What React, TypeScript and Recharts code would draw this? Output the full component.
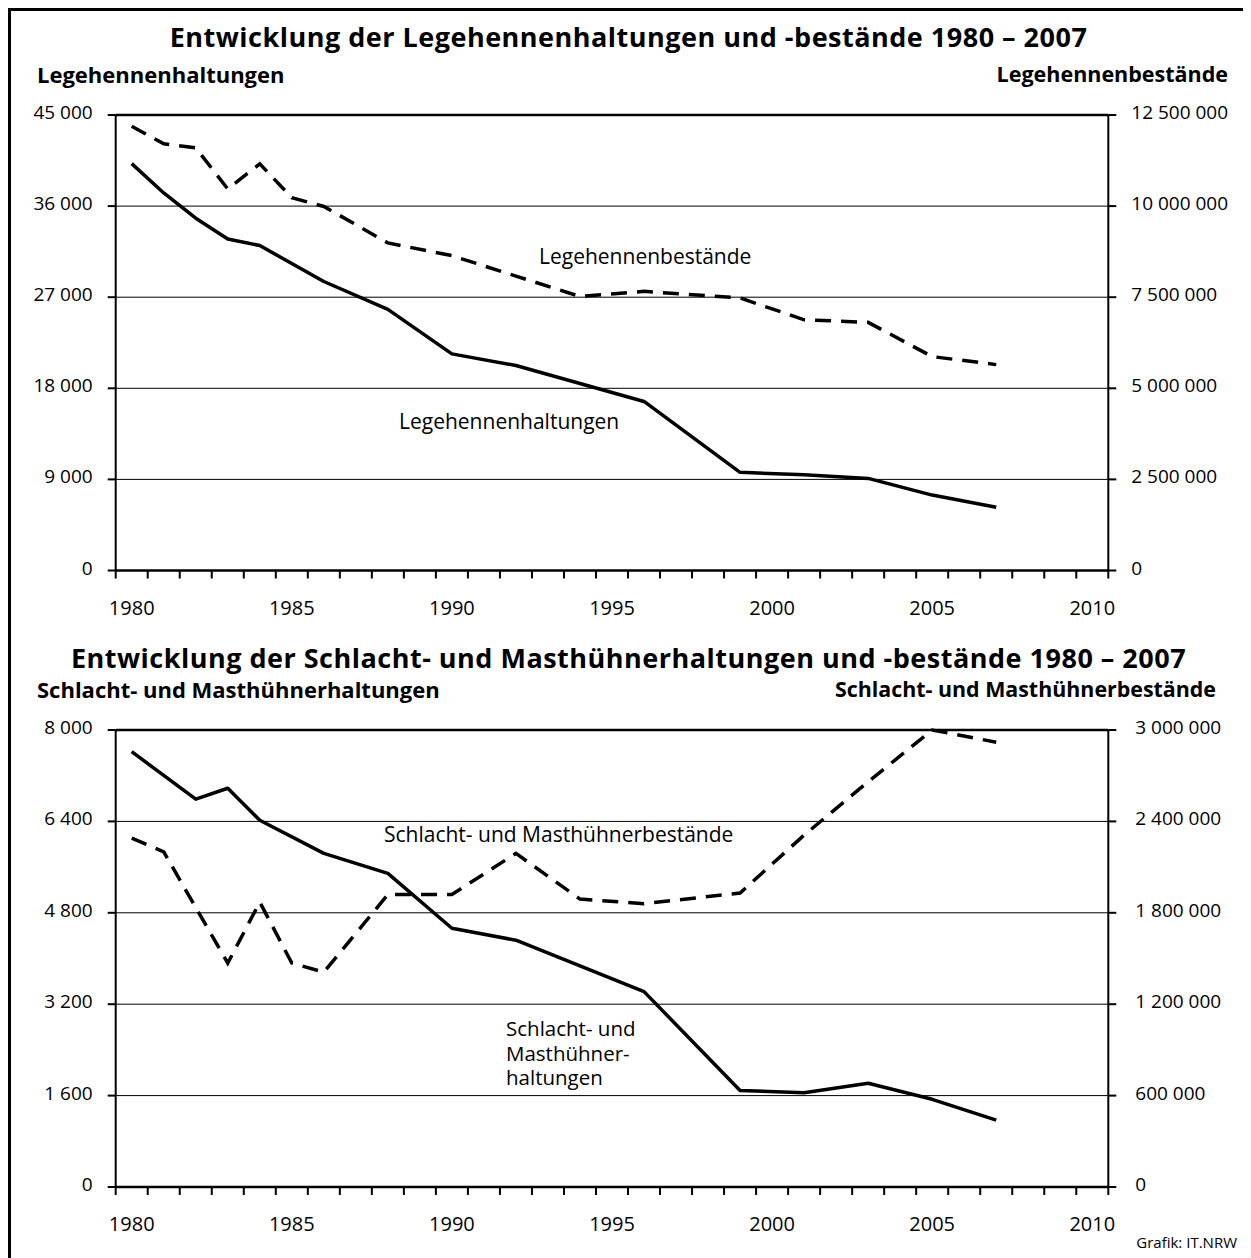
import { CartesianGrid, Line, LineChart, ReferenceLine, XAxis, YAxis } from 'recharts';

// years with observations (1980 - 2007)
const years = [1980, 1981, 1982, 1983, 1984, 1985, 1986, 1988, 1990, 1992, 1994, 1996, 1999, 2001, 2003, 2005, 2007];

// Legehennen
const legeHaltungen = [40200, 37300, 34800, 32750, 32100, null, 28550, 25800, 21400, 20250, null, 16700, 9700, 9450, 9100, 7450, 6250];
const legeBestaende = [12190000, 11710000, 11600000, 10470000, 11160000, 10230000, 9990000, 8990000, 8640000, 8080000, 7520000, 7660000, 7480000, 6880000, 6810000, 5870000, 5650000];

// Schlacht- und Masthühner
const mastHaltungen = [7620, null, 6790, 6980, 6420, null, 5840, 5490, 4530, 4320, null, 3420, 1690, 1650, 1815, 1535, 1170];
const mastBestaende = [2290000, 2200000, null, 1470000, 1870000, 1470000, 1410000, 1920000, 1920000, 2190000, 1890000, 1860000, 1930000, 2310000, 2660000, 3000000, 2920000];

const yearLabels = [1980, 1985, 1990, 1995, 2000, 2005, 2010];
const legeLeftTicks = [0, 9000, 18000, 27000, 36000, 45000];
const legeRightTicks = [0, 2500000, 5000000, 7500000, 10000000, 12500000];
const mastLeftTicks = [0, 1600, 3200, 4800, 6400, 8000];
const mastRightTicks = [0, 600000, 1200000, 1800000, 2400000, 3000000];

// category boundaries (one slot per year 1980..2010)
const yearBounds = Array.from({ length: 32 }, (_, i) => 1979.5 + i);

const fmt = (v: number) => String(v).replace(/\B(?=(\d{3})+(?!\d))/g, ' ');

const legeData = years.map((year, i) => ({ year, haltungen: legeHaltungen[i], bestaende: legeBestaende[i] }));
const mastData = years.map((year, i) => ({ year, haltungen: mastHaltungen[i], bestaende: mastBestaende[i] }));

const W = 1241;
const H = 620;
const FONT = "'Open Sans', sans-serif";

function YTick(props: any) {
  const { x, y, payload, textAnchor } = props;
  return (
    <text x={x} y={y} dy={4} textAnchor={textAnchor} fontSize={19} fill="#000" fontFamily={FONT}>
      {fmt(payload.value)}
    </text>
  );
}

const NoLabel = () => <g />;

type PanelProps = {
  data: { year: number; haltungen: number | null; bestaende: number | null }[];
  leftTicks: number[];
  rightTicks: number[];
  top: number;
  bottom: number;
  rightMargin: number;
};

function Panel({ data, leftTicks, rightTicks, top, bottom, rightMargin }: PanelProps) {
  const leftMax = leftTicks[leftTicks.length - 1];
  const rightMax = rightTicks[rightTicks.length - 1];
  return (
    <LineChart width={W} height={H} data={data} margin={{ top, right: 0, bottom, left: 0 }}>
      <CartesianGrid xAxisId="lbl" yAxisId="left" vertical={false} stroke="#000" strokeWidth={1} />
      <XAxis
        xAxisId="bnd"
        dataKey="year"
        type="number"
        domain={[1979.5, 2010.5]}
        ticks={yearBounds}
        interval={0}
        height={1}
        stroke="#000"
        axisLine={{ stroke: '#000', strokeWidth: 2.5 }}
        tickLine={{ stroke: '#000', strokeWidth: 2 }}
        tickSize={8}
        tick={NoLabel}
      />
      <XAxis
        xAxisId="lbl"
        dataKey="year"
        type="number"
        domain={[1979.5, 2010.5]}
        ticks={yearLabels}
        interval={0}
        height={1}
        axisLine={false}
        tickLine={false}
        tickSize={0}
        tickMargin={29}
        tick={{ fill: '#000', fontSize: 20, fontFamily: FONT }}
      />
      <YAxis
        yAxisId="left"
        orientation="left"
        width={107.7}
        domain={[0, leftMax]}
        ticks={leftTicks}
        interval={0}
        stroke="#000"
        axisLine={{ strokeWidth: 2 }}
        tickLine={{ strokeWidth: 2 }}
        tickSize={8}
        tickMargin={15}
        tick={<YTick />}
      />
      <YAxis
        yAxisId="right"
        orientation="right"
        width={140.7}
        domain={[0, rightMax]}
        ticks={rightTicks}
        interval={0}
        stroke="#000"
        axisLine={{ strokeWidth: 2 }}
        tickLine={{ strokeWidth: 2 }}
        tickSize={8}
        tickMargin={rightMargin}
        tick={<YTick />}
      />
      <ReferenceLine xAxisId="lbl" yAxisId="left" y={leftMax} stroke="#000" strokeWidth={2.5} />
      <Line
        xAxisId="lbl"
        yAxisId="right"
        dataKey="bestaende"
        type="linear"
        stroke="#000"
        strokeWidth={3.5}
        strokeDasharray="16 10"
        dot={false}
        activeDot={false}
        connectNulls
        isAnimationActive={false}
      />
      <Line
        xAxisId="lbl"
        yAxisId="left"
        dataKey="haltungen"
        type="linear"
        stroke="#000"
        strokeWidth={3.5}
        strokeLinejoin="round"
        dot={false}
        activeDot={false}
        connectNulls
        isAnimationActive={false}
      />
    </LineChart>
  );
}

const abs = (extra: React.CSSProperties): React.CSSProperties => ({ position: 'absolute', whiteSpace: 'nowrap', ...extra });

export default function App() {
  return (
    <div style={{ position: 'relative', width: W, height: 1250, fontFamily: FONT, color: '#000' }}>
      <div style={{ position: 'absolute', left: 0, top: 0, width: W - 6, height: 1250, borderTop: '3px solid #000', borderLeft: '3px solid #000', borderRight: '3px solid #000' }} />

      <div style={{ position: 'absolute', left: 0, top: 0 }}>
        <Panel data={legeData} leftTicks={legeLeftTicks} rightTicks={legeRightTicks} top={107} bottom={55.5} rightMargin={15} />
      </div>
      <div style={{ position: 'absolute', left: 0, top: 620 }}>
        <Panel data={mastData} leftTicks={mastLeftTicks} rightTicks={mastRightTicks} top={102} bottom={59} rightMargin={19} />
      </div>

      <div style={abs({ left: 0, width: W, top: 15, textAlign: 'center', fontSize: 27, fontWeight: 700, lineHeight: '27px', letterSpacing: 0.5 })}>
        Entwicklung der Legehennenhaltungen und -bestände 1980 – 2007
      </div>
      <div style={abs({ left: 29, top: 55, fontSize: 22, fontWeight: 700, lineHeight: '22px' })}>Legehennenhaltungen</div>
      <div style={abs({ right: 21, top: 55, fontSize: 21.5, fontWeight: 700, lineHeight: '22px' })}>Legehennenbestände</div>

      <div style={abs({ left: 0, width: W, top: 638, textAlign: 'center', fontSize: 27, fontWeight: 700, lineHeight: '24px', letterSpacing: 0.5 })}>
        Entwicklung der Schlacht- und Masthühnerhaltungen und -bestände 1980 – 2007
      </div>
      <div style={abs({ left: 29, top: 670, fontSize: 22, fontWeight: 700, lineHeight: '22px' })}>Schlacht- und Masthühnerhaltungen</div>
      <div style={abs({ right: 33, top: 670, fontSize: 21.4, fontWeight: 700, lineHeight: '22px' })}>Schlacht- und Masthühnerbestände</div>

      <div style={abs({ left: 531, top: 238, fontSize: 21, lineHeight: '21px' })}>Legehennenbestände</div>
      <div style={abs({ left: 391, top: 403, fontSize: 21, lineHeight: '21px' })}>Legehennenhaltungen</div>
      <div style={abs({ left: 376, top: 816, fontSize: 21, lineHeight: '21px' })}>Schlacht- und Masthühnerbestände</div>
      <div style={abs({ left: 498, top: 1010, fontSize: 20.5, lineHeight: '20px' })}>Schlacht- und</div>
      <div style={abs({ left: 498, top: 1034.5, fontSize: 20.5, lineHeight: '20px' })}>Masthühner-</div>
      <div style={abs({ left: 498, top: 1059, fontSize: 20.5, lineHeight: '20px' })}>haltungen</div>

      <div style={abs({ right: 12, top: 1227, fontSize: 15, lineHeight: '15px' })}>Grafik: IT.NRW</div>
    </div>
  );
}
